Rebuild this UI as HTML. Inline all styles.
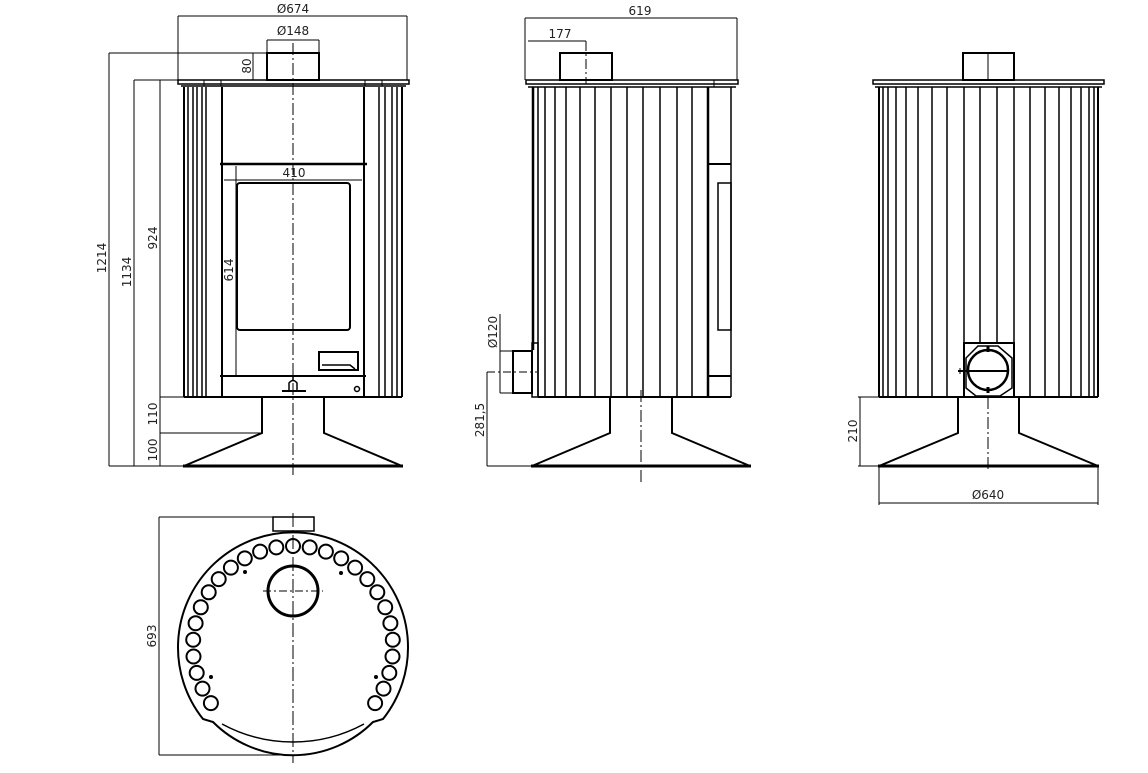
<!DOCTYPE html>
<html><head><meta charset="utf-8"><style>
html,body{margin:0;padding:0;background:#fff;}
svg{display:block;}
text{font-family:"DejaVu Sans","Liberation Sans",sans-serif;font-size:12px;fill:#222;}
</style></head><body>
<svg width="1148" height="773" viewBox="0 0 1148 773" xmlns="http://www.w3.org/2000/svg">
<g fill="none" stroke="#000" stroke-width="1">

<!-- ========== FRONT VIEW ========== -->
<line x1="178" y1="16" x2="407" y2="16"/>
<line x1="178" y1="16" x2="178" y2="80"/>
<line x1="407" y1="16" x2="407" y2="80"/>
<line x1="267" y1="40" x2="319" y2="40"/>
<line x1="267" y1="40" x2="267" y2="53"/>
<line x1="319" y1="40" x2="319" y2="53"/>
<line x1="109" y1="53" x2="267" y2="53"/>
<line x1="134" y1="80" x2="178" y2="80"/>
<line x1="253" y1="53" x2="253" y2="80"/>
<line x1="109" y1="53" x2="109" y2="466"/>
<line x1="134" y1="80" x2="134" y2="466"/>
<line x1="160" y1="80" x2="160" y2="466"/>
<line x1="160" y1="397" x2="184" y2="397"/>
<line x1="160" y1="433" x2="262" y2="433"/>
<line x1="109" y1="466" x2="184" y2="466"/>
<rect x="267" y="53" width="52" height="27" stroke-width="2"/>
<rect x="178" y="80" width="231" height="4" stroke-width="1.5"/>
<line x1="181" y1="86" x2="406" y2="86" stroke-width="1.5"/>
<line x1="204" y1="80" x2="204" y2="86"/>
<line x1="221" y1="80" x2="221" y2="86"/>
<line x1="365" y1="80" x2="365" y2="86"/>
<line x1="382" y1="80" x2="382" y2="86"/>
<g stroke-width="1.5">
<line x1="184" y1="87" x2="184" y2="397" stroke-width="2"/>
<line x1="188" y1="87" x2="188" y2="397"/>
<line x1="193" y1="87" x2="193" y2="397"/>
<line x1="197" y1="87" x2="197" y2="397"/>
<line x1="202" y1="87" x2="202" y2="397"/>
<line x1="206" y1="87" x2="206" y2="397"/>
<line x1="222" y1="87" x2="222" y2="397" stroke-width="2"/>
<line x1="364" y1="87" x2="364" y2="397" stroke-width="2"/>
<line x1="379" y1="87" x2="379" y2="397"/>
<line x1="385" y1="87" x2="385" y2="397"/>
<line x1="392" y1="87" x2="392" y2="397"/>
<line x1="397" y1="87" x2="397" y2="397"/>
<line x1="402" y1="87" x2="402" y2="397" stroke-width="2"/>
<line x1="184" y1="397" x2="402" y2="397" stroke-width="2"/>
</g>
<line x1="220" y1="164" x2="367" y2="164" stroke-width="2.5"/>
<line x1="220" y1="376" x2="366" y2="376" stroke-width="2"/>
<line x1="224" y1="180" x2="362" y2="180"/>
<line x1="236" y1="166" x2="236" y2="375"/>
<rect x="237" y="183" width="113" height="147" rx="3" stroke-width="2"/>
<rect x="319" y="352" width="39" height="18" stroke-width="2"/>
<path d="M322,365 L350,365 L355,369" stroke-width="1.5"/>
<line x1="282" y1="391" x2="306" y2="391" stroke-width="2"/>
<path d="M289,390 L289,383 Q293,378 297,383 L297,390 M293,380 L293,376" stroke-width="1.5"/>
<circle cx="357" cy="389" r="2.5" stroke-width="1.5"/>
<path d="M262,397 L262,433 L184,466 M324,397 L324,433 L402,466" stroke-width="2"/>
<line x1="183" y1="466" x2="403" y2="466" stroke-width="3"/>
<line x1="293" y1="43" x2="293" y2="475" stroke-dasharray="12 3 2 3"/>

<!-- ========== SIDE VIEW ========== -->
<line x1="525" y1="18" x2="737" y2="18"/>
<line x1="525" y1="18" x2="525" y2="80"/>
<line x1="737" y1="18" x2="737" y2="80"/>
<line x1="528" y1="41" x2="586" y2="41"/>
<line x1="586" y1="41" x2="586" y2="84" stroke-dasharray="10 3 2 3"/>
<rect x="560" y="53" width="52" height="27" stroke-width="2"/>
<rect x="526" y="80" width="212" height="4" stroke-width="1.5"/>
<line x1="528" y1="87" x2="736" y2="87" stroke-width="1.5"/>
<line x1="714" y1="80" x2="714" y2="87"/>
<g stroke-width="1.5">
<line x1="533" y1="87" x2="533" y2="350" stroke-width="2.5"/>
<line x1="538" y1="87" x2="538" y2="397"/>
<line x1="545" y1="87" x2="545" y2="397"/>
<line x1="555" y1="87" x2="555" y2="397"/>
<line x1="566" y1="87" x2="566" y2="397"/>
<line x1="580" y1="87" x2="580" y2="397"/>
<line x1="595" y1="87" x2="595" y2="397"/>
<line x1="611" y1="87" x2="611" y2="397"/>
<line x1="627" y1="87" x2="627" y2="397"/>
<line x1="643" y1="87" x2="643" y2="397"/>
<line x1="660" y1="87" x2="660" y2="397"/>
<line x1="677" y1="87" x2="677" y2="397"/>
<line x1="692" y1="87" x2="692" y2="397"/>
<line x1="708" y1="87" x2="708" y2="397" stroke-width="2.5"/>
<line x1="731" y1="87" x2="731" y2="397"/>
<line x1="538" y1="397" x2="731" y2="397" stroke-width="2"/>
<line x1="708" y1="164" x2="731" y2="164" stroke-width="2"/>
<line x1="708" y1="376" x2="731" y2="376" stroke-width="2"/>
<rect x="718" y="183" width="13" height="147"/>
</g>
<rect x="532" y="343" width="6" height="54" stroke-width="1.5"/>
<rect x="513" y="351" width="19" height="42" stroke-width="2"/>
<line x1="500" y1="351" x2="513" y2="351"/>
<line x1="500" y1="393" x2="513" y2="393"/>
<line x1="500" y1="314" x2="500" y2="393"/>
<line x1="487" y1="372" x2="537" y2="372" stroke-dasharray="8 3 2 3"/>
<line x1="487" y1="372" x2="487" y2="466"/>
<line x1="487" y1="466" x2="532" y2="466"/>
<path d="M610,397 L610,433 L532,466 M672,397 L672,433 L750,466" stroke-width="2"/>
<line x1="531" y1="466" x2="751" y2="466" stroke-width="3"/>
<line x1="641" y1="390" x2="641" y2="482" stroke-dasharray="12 3 2 3"/>

<!-- ========== REAR VIEW ========== -->
<rect x="963" y="53" width="51" height="27" stroke-width="2"/>
<line x1="988" y1="53" x2="988" y2="80"/>
<rect x="873" y="80" width="231" height="4" stroke-width="1.5"/>
<line x1="875" y1="87" x2="1102" y2="87" stroke-width="1.5"/>
<g stroke-width="1.5">
<line x1="879" y1="87" x2="879" y2="397" stroke-width="2"/>
<line x1="883" y1="87" x2="883" y2="397"/>
<line x1="888" y1="87" x2="888" y2="397"/>
<line x1="896" y1="87" x2="896" y2="397"/>
<line x1="906" y1="87" x2="906" y2="397"/>
<line x1="918" y1="87" x2="918" y2="397"/>
<line x1="932" y1="87" x2="932" y2="397"/>
<line x1="947" y1="87" x2="947" y2="397"/>
<line x1="964" y1="87" x2="964" y2="397"/>
<line x1="980" y1="87" x2="980" y2="343"/>
<line x1="997" y1="87" x2="997" y2="343"/>
<line x1="1014" y1="87" x2="1014" y2="397"/>
<line x1="1030" y1="87" x2="1030" y2="397"/>
<line x1="1045" y1="87" x2="1045" y2="397"/>
<line x1="1059" y1="87" x2="1059" y2="397"/>
<line x1="1071" y1="87" x2="1071" y2="397"/>
<line x1="1081" y1="87" x2="1081" y2="397"/>
<line x1="1089" y1="87" x2="1089" y2="397"/>
<line x1="1094" y1="87" x2="1094" y2="397"/>
<line x1="1098" y1="87" x2="1098" y2="397" stroke-width="2"/>
<line x1="879" y1="397" x2="1098" y2="397" stroke-width="2"/>
</g>
<rect x="964" y="343" width="50" height="54" stroke-width="2"/>
<path d="M978,346 L998,346 L1012,358 L1012,388 L1000,396 L976,396 L966,388 L966,358 Z" stroke-width="1.5"/>
<circle cx="988" cy="370" r="20" stroke-width="2.5"/>
<line x1="958" y1="371" x2="1008" y2="371" stroke-width="2"/>
<line x1="960" y1="368" x2="960" y2="374"/>
<line x1="988" y1="346" x2="988" y2="352" stroke-width="3"/>
<line x1="988" y1="387" x2="988" y2="393" stroke-width="3"/>
<path d="M958,397 L958,433 L879,466 M1019,397 L1019,433 L1098,466" stroke-width="2"/>
<line x1="878" y1="466" x2="1099" y2="466" stroke-width="3"/>
<line x1="988" y1="397" x2="988" y2="472" stroke-dasharray="12 3 2 3"/>
<line x1="858" y1="397" x2="879" y2="397"/>
<line x1="858" y1="466" x2="879" y2="466"/>
<line x1="860" y1="397" x2="860" y2="466"/>
<line x1="879" y1="466" x2="879" y2="505"/>
<line x1="1098" y1="466" x2="1098" y2="505"/>
<line x1="879" y1="503" x2="1098" y2="503"/>

<!-- ========== TOP VIEW ========== -->
<rect x="273" y="517" width="41" height="14" stroke-width="1.5"/>
<path d="M203,719 A115,115 0 1 1 383,719 L373,722 A113,113 0 0 1 213,722 Z" stroke-width="2"/>
<path d="M222,724 A149,149 0 0 0 364,724" stroke-width="1.5"/>
<circle cx="293" cy="591" r="25" stroke-width="3"/>
<line x1="263" y1="591" x2="323" y2="591" stroke-dasharray="8 3 2 3"/>
<line x1="293" y1="513" x2="293" y2="763" stroke-dasharray="14 3 2 3"/>
<line x1="159" y1="517" x2="159" y2="755"/>
<line x1="159" y1="517" x2="273" y2="517"/>
<line x1="159" y1="755" x2="293" y2="755"/>
<g stroke-width="2">
<circle cx="293" cy="546" r="7"/>
<circle cx="276.3" cy="547.4" r="7"/><circle cx="309.7" cy="547.4" r="7"/>
<circle cx="260.1" cy="551.6" r="7"/><circle cx="325.9" cy="551.6" r="7"/>
<circle cx="244.8" cy="558.4" r="7"/><circle cx="341.2" cy="558.4" r="7"/>
<circle cx="230.9" cy="567.6" r="7"/><circle cx="355.1" cy="567.6" r="7"/>
<circle cx="218.7" cy="579.1" r="7"/><circle cx="367.3" cy="579.1" r="7"/>
<circle cx="208.7" cy="592.3" r="7"/><circle cx="377.3" cy="592.3" r="7"/>
<circle cx="200.8" cy="607.3" r="7"/><circle cx="385.2" cy="607.3" r="7"/>
<circle cx="195.6" cy="623.2" r="7"/><circle cx="390.4" cy="623.2" r="7"/>
<circle cx="193.2" cy="639.7" r="7"/><circle cx="392.8" cy="639.7" r="7"/>
<circle cx="193.5" cy="656.5" r="7"/><circle cx="392.5" cy="656.5" r="7"/>
<circle cx="196.7" cy="672.9" r="7"/><circle cx="389.3" cy="672.9" r="7"/>
<circle cx="202.5" cy="688.6" r="7"/><circle cx="383.5" cy="688.6" r="7"/>
<circle cx="210.9" cy="703.1" r="7"/><circle cx="375.1" cy="703.1" r="7"/>
</g>
</g>
<g fill="#000">
<circle cx="245" cy="572" r="2"/><circle cx="341" cy="573" r="2"/>
<circle cx="211" cy="677" r="2"/><circle cx="376" cy="677" r="2"/>
</g>

<text x="293" y="13" text-anchor="middle">Ø674</text>
<text x="293" y="35" text-anchor="middle">Ø148</text>
<text x="294" y="177" text-anchor="middle">410</text>
<text x="640" y="15" text-anchor="middle">619</text>
<text x="560" y="38" text-anchor="middle">177</text>
<text x="988" y="499" text-anchor="middle">Ø640</text>
<text transform="translate(251,66) rotate(-90)" text-anchor="middle">80</text>
<text transform="translate(106,258) rotate(-90)" text-anchor="middle">1214</text>
<text transform="translate(131,272) rotate(-90)" text-anchor="middle">1134</text>
<text transform="translate(157,238) rotate(-90)" text-anchor="middle">924</text>
<text transform="translate(233,270) rotate(-90)" text-anchor="middle">614</text>
<text transform="translate(157,414) rotate(-90)" text-anchor="middle">110</text>
<text transform="translate(157,450) rotate(-90)" text-anchor="middle">100</text>
<text transform="translate(497,332) rotate(-90)" text-anchor="middle">Ø120</text>
<text transform="translate(484,420) rotate(-90)" text-anchor="middle">281,5</text>
<text transform="translate(857,431) rotate(-90)" text-anchor="middle">210</text>
<text transform="translate(156,636) rotate(-90)" text-anchor="middle">693</text>
</svg>
</body></html>
